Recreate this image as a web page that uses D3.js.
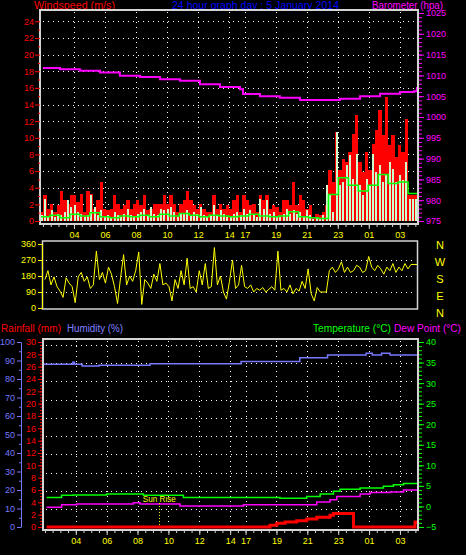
<!DOCTYPE html>
<html>
<head>
<meta charset="utf-8">
<script src="https://cdn.jsdelivr.net/npm/d3@7"></script>
<style>
body { margin: 0; background: #000; }
text { font-family: "Liberation Sans", Arial, sans-serif; }
</style>
</head>
<body>
<div id="chart"></div>
<script>
// x axis: hours along the graph (14 -> 17 is squeezed in the original)
var tickPos = [2.19, 4.19, 6.19, 8.19, 10.19, 12.19, 13.19, 15.19, 17.19, 19.19, 21.19, 23.19];
var tickLabels = ['04','06','08','10','12','14','17','19','21','23','01','03'];

// wind gust (m/s), red bars
var gust = [1.1,3.1,1.5,2.1,1.1,1.9,3.6,2.5,2.1,3.1,
  3.1,2.3,3.3,1.1,3.6,3.3,1.5,2.5,4.7,1.5,
  1.3,1.5,3.1,2.1,1.5,1.9,2.5,1.5,2.1,2.5,
  1.9,3.1,1.3,1.5,2.1,2.1,2.1,3.1,2.1,3.1,
  2.1,1.1,2.1,2.5,3.6,2.5,1.9,1.5,2.1,1.5,
  1.1,1.1,3.1,1.5,2.1,1.5,1.9,
  1.5,2.5,3.1,1.1,3.1,2.5,1.9,2.1,1.1,3.1,
  2.5,3.1,1.5,1.9,1.7,1.1,2.5,2.5,1.9,4.7,
  1.9,3.1,2.5,1.5,1.9,0.5,0.9,0.7,1.1,1.9,
  6.1,4.7,10.7,6.1,7.5,7.1,8.3,10.5,12.7,7.1,
  5.9,8.3,6.1,9.3,10.9,13.3,10.3,14.9,9.1,10.3,
  7.7,9.1,8.3,12.3,3.1,3.1,3.1];

// wind average (m/s), light green bars
var windAvg = [0.7,2.7,0.5,1.3,0.5,0.9,0.7,1.1,2.5,1.7,
  1.9,1.1,0.9,0.5,0.7,3.1,1.7,0.7,1.3,0.5,
  0.7,0.5,1.1,0.7,0.5,0.9,1.5,0.7,0.5,0.9,
  1.1,1.5,0.7,1.7,0.9,0.7,1.5,1.3,1.5,1.7,
  1.1,0.5,0.9,0.9,1.3,0.7,1.1,0.9,1.7,0.7,
  0.5,0.7,1.9,0.7,1.3,0.9,0.5,
  0.5,0.9,1.1,0.7,1.5,0.9,1.3,0.7,0.5,2.7,
  1.5,2.5,0.9,1.1,0.5,0.5,0.9,1.5,0.9,1.3,
  0.9,1.1,0.5,1.3,0.7,0.3,0.5,0.3,0.7,4.3,
  3.1,1.1,10.7,4.3,4.7,6.7,7.9,5.1,8.1,4.3,
  3.1,5.1,4.3,8.1,5.9,6.7,4.7,5.7,7.1,6.3,
  4.7,5.5,4.9,7.1,2.7,2.7,2.7];

// 10 minute wind average (m/s), green line
var windLine = [0.5,0.7,0.4,0.8,0.6,1.0,0.5,0.4,0.6,0.5,0.7,0.5,0.8,0.6,0.9,0.7,0.5,0.7,0.6,
  0.5,0.6,0.8,0.6,0.5,0.6,1.1,0.5,0.4,0.3,
  3.2,5.2,4.3,3.6,4.3,5.6,4.5,4.7,3.3,3.5];

// barometer (hPa)
var baroHours = [0.19,1.29,2.58,3.87,5.15,6.44,7.73,9.02,10.31,11.60,12.89,13.08,14.18,15.46,16.75,18.04,19.33,20.62,21.91,23.20,24.10,24.29];
var baroValues = [1011.8,1011.5,1011.1,1010.7,1009.9,1009.6,1009.1,1008.7,1007.9,1007.2,1006.7,1005.5,1005.0,1004.6,1004.1,1004.1,1004.4,1005.0,1005.6,1006.0,1006.2,1007.2];

// wind direction (degrees)
var direction = [160,210,130,175,120,95,60,170,140,120,
  30,175,200,150,175,110,130,320,160,200,
  140,230,190,120,25,170,300,130,180,150,
  210,315,20,160,140,110,190,150,250,130,
  140,120,40,160,110,210,130,280,110,120,
  90,210,130,250,110,120,340,130,180,90,
  50,150,270,110,130,240,120,110,130,90,
  110,100,115,90,105,120,100,320,100,110,
  90,130,80,110,95,150,110,220,80,40,
  115,90,90,90,210,230,200,220,260,200,
  230,200,210,240,230,200,210,290,230,210,
  240,220,190,230,210,250,200,230,210,250,
  220,245,245,245];
var dirTicks = [0, 90, 180, 270, 360];
var dirLetters = ['N','E','S','W','N'];

// humidity (%)
var humHours = [0.06,2.0,2.1,2.6,3.7,7.0,12.9,16.7,18.5,21.0,21.4,22.0,22.55,24.36];
var humValues = [88,89,88,87,87.5,88.3,89.4,91.5,93.0,93.9,93.0,93.9,93.0,93.0];

// temperature (°C)
var tempHours = [0.30,1.27,2.03,4.19,6.57,9.16,15.42,17.15,18.02,18.88,19.31,20.61,22.12,22.77,23.42,24.36];
var tempValues = [2.2,2.7,2.8,3.0,2.7,2.2,2.0,2.4,3.0,3.7,4.2,4.5,4.9,5.3,5.6,5.6];

// dew point (°C)
var dewHours = [0.30,1.27,2.25,5.92,6.35,8.94,13.05,17.80,18.66,19.10,20.61,21.26,22.55,23.42,24.36];
var dewValues = [-0.2,0.4,0.6,0.9,0.6,0.1,0.4,1.1,1.6,2.4,3.0,3.4,3.5,4.0,4.0];

// rainfall (mm)
var rainHours = [0.30,14.77,15.21,15.75,16.50,17.15,17.80,18.66,18.88,20.18,24.17,24.36];
var rainValues = [0,0.3,0.6,0.8,1.0,1.3,1.6,1.9,2.2,0,0.8,0.8];

var sunriseHour = 7.6;

var svg = d3.select('#chart').append('svg')
  .attr('width', 466).attr('height', 555)
  .style('background', '#000').style('display', 'block');

var frameColor = '#d4d4d4';
var fontFam = '"Liberation Sans", Arial, sans-serif';

var xTop = d3.scaleLinear().domain([0, 24.36]).range([40, 418]);
var xLow = d3.scaleLinear().domain([0, 24.36]).range([42, 418]);
var yWind = d3.scaleLinear().domain([0, 25]).range([221, 13]);
var yBaro = d3.scaleLinear().domain([975, 1025]).range([221, 13]);
var yDir = d3.scaleLinear().domain([0, 360]).range([308, 244]);
var yLetter = d3.scaleLinear().domain([0, 360]).range([316.5, 248.5]);
var yHum = d3.scaleLinear().domain([0, 100]).range([527, 342]);
var yRain = d3.scaleLinear().domain([0, 30]).range([527, 342]);
var yTemp = d3.scaleLinear().domain([-5, 40]).range([527, 342]);

var px = function(v){ return Math.round(v) + 0.5; };

var label = function(txt, x, y, color, len){
  var t = svg.append('text').attr('x', x).attr('y', y).attr('fill', color)
    .style('font-size', '10px').text(txt);
  if (len) t.attr('textLength', len).attr('lengthAdjust', 'spacingAndGlyphs');
  return t;
};

var styleAxis = function(g, color, removeDomain){
  g.attr('color', color).attr('font-size', 9).attr('font-family', fontFam);
  if (removeDomain) g.select('.domain').remove();
  return g;
};

var dotH = function(g, y, x1, x2){
  g.append('line').attr('x1', x1).attr('x2', x2).attr('y1', px(y)).attr('y2', px(y))
    .attr('stroke', '#fff').attr('stroke-dasharray', '1,4');
};
var dotV = function(g, x, y1, y2){
  g.append('line').attr('x1', px(x)).attr('x2', px(x)).attr('y1', y1).attr('y2', y2)
    .attr('stroke', '#fff').attr('stroke-dasharray', '1,4');
};

// titles
label('Windspeed (m/s)', 34, 9.3, '#ff0000', 81);
label('24 hour graph day : 5 January 2014', 172, 9.3, '#0000ff', 167);
label('Barometer (hpa)', 372, 9.3, '#ff00ff', 71);
label('Rainfall (mm)', 1, 331.5, '#ff0000', 60);
label('Humidity (%)', 67, 331.5, '#8080ff', 56);
label('Temperature (°C)', 313, 331.5, '#00ff00', 78);
label('Dew Point (°C)', 394, 331.5, '#ff00ff', 67);

// ---------- top panel: wind + barometer ----------
var topPanel = svg.append('g');
var grid1 = topPanel.append('g');
d3.range(2, 25, 2).forEach(function(v){ dotH(grid1, yWind(v), 43, 416); });
tickPos.forEach(function(h){ dotV(grid1, xTop(h), 12, 222); });

var step = 24.36 / gust.length;
var bw = xTop(step) - xTop(0);
topPanel.append('g').selectAll('rect').data(gust).enter().append('rect')
  .attr('x', function(d, i){ return xTop(i * step); })
  .attr('width', bw)
  .attr('y', function(d){ return yWind(d); })
  .attr('height', function(d){ return yWind(0) - yWind(d); })
  .attr('fill', '#ff0000').attr('shape-rendering', 'crispEdges');

topPanel.append('g').selectAll('rect').data(windAvg).enter().append('rect')
  .attr('x', function(d, i){ return xTop(i * step) + 0.6; })
  .attr('width', 2)
  .attr('y', function(d){ return yWind(d); })
  .attr('height', function(d){ return yWind(0) - yWind(d); })
  .attr('fill', '#ccffcc').attr('shape-rendering', 'crispEdges');

var lineStep = 24.36 / (windLine.length - 1);
topPanel.append('path').datum(windLine)
  .attr('d', d3.line().x(function(d, i){ return xTop(i * lineStep); }).y(function(d){ return yWind(d); }).curve(d3.curveStepAfter))
  .attr('fill', 'none').attr('stroke', '#00ff00').attr('stroke-width', 1.5);

topPanel.append('path').datum(baroValues)
  .attr('d', d3.line().x(function(d, i){ return xTop(baroHours[i]); }).y(function(d){ return yBaro(d); }).curve(d3.curveStepAfter))
  .attr('fill', 'none').attr('stroke', '#ff00ff').attr('stroke-width', 2);

topPanel.append('rect').attr('x', 40).attr('y', 10).attr('width', 378).attr('height', 214)
  .attr('fill', 'none').attr('stroke', frameColor).attr('stroke-width', 2);

styleAxis(topPanel.append('g').attr('transform', 'translate(40,0)')
  .call(d3.axisLeft(yWind).tickValues(d3.range(0, 25, 2)).tickSize(5).tickPadding(1)), '#ff0000', true);
styleAxis(topPanel.append('g').attr('transform', 'translate(40,0)')
  .call(d3.axisLeft(yWind).tickValues(d3.range(1, 25, 2)).tickSize(2).tickFormat('')), '#ff0000', true);
styleAxis(topPanel.append('g').attr('transform', 'translate(419,0)')
  .call(d3.axisRight(yBaro).tickValues(d3.range(975, 1026, 5)).tickSize(5).tickPadding(2).tickFormat(d3.format('d'))), '#ff00ff', true);
styleAxis(topPanel.append('g').attr('transform', 'translate(419,0)')
  .call(d3.axisRight(yBaro).tickValues(d3.range(975, 1026, 1)).tickSize(3).tickFormat('')), '#ff00ff', true);

var xa1 = styleAxis(topPanel.append('g').attr('transform', 'translate(0,224)')
  .call(d3.axisBottom(xTop).tickValues(tickPos).tickSize(5).tickPadding(2.6)
    .tickFormat(function(d, i){ return tickLabels[i]; })), frameColor, true);
xa1.selectAll('text').attr('fill', '#ffff00');
styleAxis(topPanel.append('g').attr('transform', 'translate(0,224)')
  .call(d3.axisBottom(xTop).tickValues(d3.range(0.19, 24.36, 0.5)).tickSize(3).tickFormat('')), frameColor, true);

// ---------- middle panel: wind direction ----------
var mid = svg.append('g');
[90, 180, 270].forEach(function(v){ dotH(mid, yDir(v), 46, 415); });
var dirStep = (24.3 - 0.19) / (direction.length - 1);
mid.append('path').datum(direction)
  .attr('d', d3.line().x(function(d, i){ return xLow(0.19 + i * dirStep); }).y(function(d){ return yDir(d); }))
  .attr('fill', 'none').attr('stroke', '#ffff00').attr('stroke-width', 1);
mid.append('rect').attr('x', 42.5).attr('y', 241).attr('width', 375).attr('height', 68)
  .attr('fill', 'none').attr('stroke', frameColor).attr('stroke-width', 1.5);
styleAxis(mid.append('g').attr('transform', 'translate(42,0)')
  .call(d3.axisLeft(yDir).tickValues(dirTicks).tickSize(4).tickPadding(2).tickSizeOuter(0)), '#ffff00', false);
mid.append('g').selectAll('text').data(dirTicks).enter().append('text')
  .attr('x', 440).attr('y', function(d){ return yLetter(d); })
  .attr('text-anchor', 'middle').attr('fill', '#ffff00').style('font-size', '11px')
  .text(function(d, i){ return dirLetters[i]; });

// ---------- bottom panel: rain, humidity, temperature, dew point ----------
var bot = svg.append('g');
d3.range(10).forEach(function(k){ dotH(bot, yHum(98.5 - 9.87 * k), 46, 416); });
tickPos.forEach(function(h){ dotV(bot, xLow(h), 341, 528); });

var stepLine = function(hours, scale){
  return d3.line().x(function(d, i){ return xLow(hours[i]); }).y(function(d){ return scale(d); }).curve(d3.curveStepAfter);
};
bot.append('path').datum(humValues).attr('d', stepLine(humHours, yHum))
  .attr('fill', 'none').attr('stroke', '#7878ff').attr('stroke-width', 1.5);
bot.append('path').datum(tempValues).attr('d', stepLine(tempHours, yTemp))
  .attr('fill', 'none').attr('stroke', '#00ff00').attr('stroke-width', 1.5);
bot.append('path').datum(dewValues).attr('d', stepLine(dewHours, yTemp))
  .attr('fill', 'none').attr('stroke', '#ff00ff').attr('stroke-width', 1.5);
bot.append('path').datum(rainValues).attr('d', stepLine(rainHours, yRain))
  .attr('fill', 'none').attr('stroke', '#ff0000').attr('stroke-width', 3);

bot.append('line').attr('x1', px(xLow(sunriseHour))).attr('x2', px(xLow(sunriseHour)))
  .attr('y1', yRain(3.9)).attr('y2', yRain(0))
  .attr('stroke', '#ffff00').attr('stroke-dasharray', '1,2');
bot.append('text').attr('x', xLow(sunriseHour)).attr('y', yRain(4.1))
  .attr('text-anchor', 'middle').attr('fill', '#ffff00').style('font-size', '9px')
  .attr('textLength', 33).attr('lengthAdjust', 'spacingAndGlyphs').text('Sun Rise');

bot.append('rect').attr('x', 43).attr('y', 339).attr('width', 375).attr('height', 191)
  .attr('fill', 'none').attr('stroke', frameColor).attr('stroke-width', 2);

styleAxis(bot.append('g').attr('transform', 'translate(21,0)')
  .call(d3.axisLeft(yHum).tickValues(d3.range(0, 101, 10)).tickSize(4).tickPadding(2).tickSizeOuter(0)), '#7878ff', false);
styleAxis(bot.append('g').attr('transform', 'translate(21,0)')
  .call(d3.axisLeft(yHum).tickValues(d3.range(5, 100, 10)).tickSize(2).tickFormat('')), '#7878ff', true);
styleAxis(bot.append('g').attr('transform', 'translate(42,0)')
  .call(d3.axisLeft(yRain).tickValues(d3.range(0, 31, 2)).tickSize(4).tickPadding(2)), '#ff0000', true);
styleAxis(bot.append('g').attr('transform', 'translate(42,0)')
  .call(d3.axisLeft(yRain).tickValues(d3.range(0, 30.1, 0.5)).tickSize(2).tickFormat('')), '#ff0000', true);
styleAxis(bot.append('g').attr('transform', 'translate(419,0)')
  .call(d3.axisRight(yTemp).tickValues(d3.range(-5, 41, 5)).tickSize(5).tickPadding(2)), '#00ff00', true);
styleAxis(bot.append('g').attr('transform', 'translate(419,0)')
  .call(d3.axisRight(yTemp).tickValues(d3.range(-5, 41, 1)).tickSize(3).tickFormat('')), '#00ff00', true);

var xa2 = styleAxis(bot.append('g').attr('transform', 'translate(0,530)')
  .call(d3.axisBottom(xLow).tickValues(tickPos).tickSize(5).tickPadding(2.6)
    .tickFormat(function(d, i){ return tickLabels[i]; })), frameColor, true);
xa2.selectAll('text').attr('fill', '#ffff00');
styleAxis(bot.append('g').attr('transform', 'translate(0,530)')
  .call(d3.axisBottom(xLow).tickValues(d3.range(0.19, 24.36, 0.5)).tickSize(3).tickFormat('')), frameColor, true);
</script>
</body>
</html>
